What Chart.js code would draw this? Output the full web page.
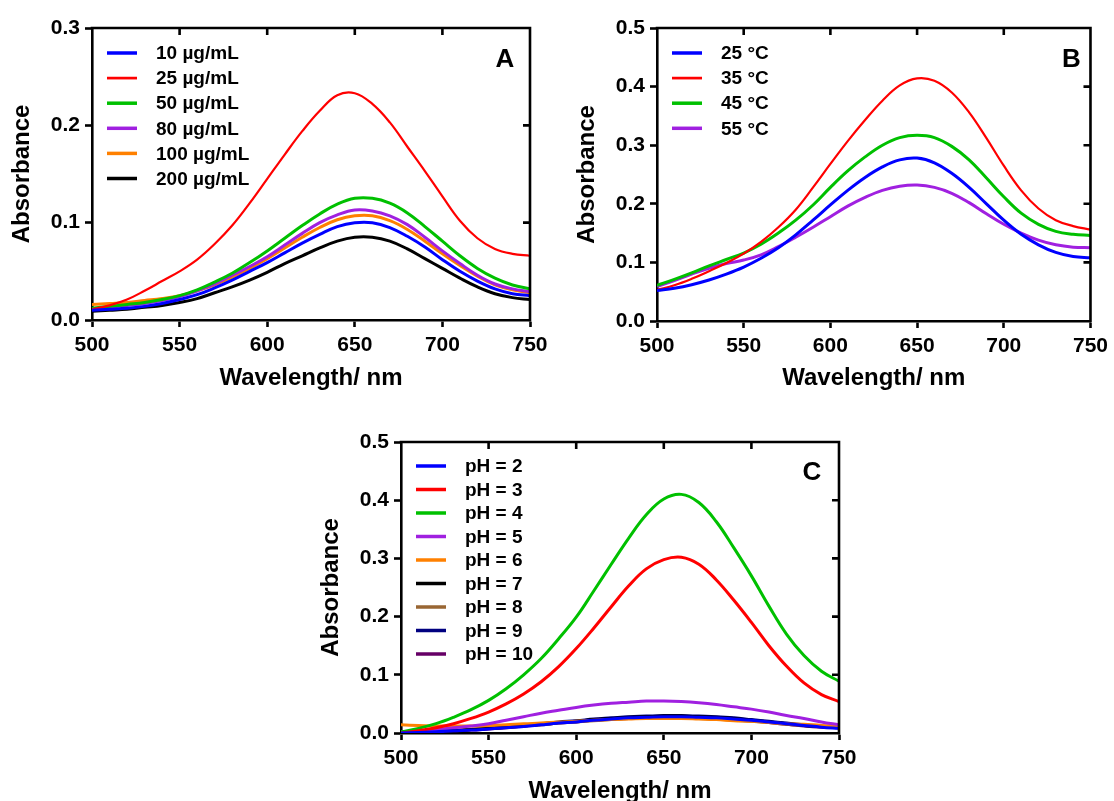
<!DOCTYPE html>
<html><head><meta charset="utf-8">
<script src="https://cdn.jsdelivr.net/npm/chart.js@4.4.0/dist/chart.umd.min.js"></script>
<style>
html,body{margin:0;padding:0;background:#fff;width:1114px;height:801px;overflow:hidden;}
canvas{position:absolute;display:block;}
</style></head><body>
<canvas id="cA" width="560" height="400" style="left:0;top:0"></canvas>
<canvas id="cB" width="554" height="400" style="left:560px;top:0"></canvas>
<canvas id="cC" width="580" height="401" style="left:310px;top:400px"></canvas>
<script>
// ---------- data ----------
const wavelength = [500,510,520,530,540,550,560,570,580,590,600,610,620,630,640,650,660,670,680,690,700,710,720,730,740,750];
const xTicks = [500,550,600,650,700,750];
const xTickLabels = ['500','550','600','650','700','750'];
const yTicksA = [0,0.1,0.2,0.3];
const yTickLabelsA = ['0.0','0.1','0.2','0.3'];
const yTicksBC = [0,0.1,0.2,0.3,0.4,0.5];
const yTickLabelsBC = ['0.0','0.1','0.2','0.3','0.4','0.5'];

// Panel A: concentration
const labelsA = ['10 µg/mL','25 µg/mL','50 µg/mL','80 µg/mL','100 µg/mL','200 µg/mL'];
const colorsA = ['#0000ff','#ff0000','#00c000','#a020e0','#ff8000','#000000'];
const absA10  = [.010,.011,.012,.014,.017,.021,.026,.033,.041,.050,.059,.069,.079,.088,.096,.100,.100,.095,.086,.075,.062,.050,.040,.032,.027,.025];
const absA25  = [.011,.015,.021,.030,.040,.050,.062,.078,.097,.120,.145,.170,.194,.215,.231,.233,.222,.203,.178,.153,.127,.102,.084,.073,.068,.066];
const absA50  = [.012,.014,.016,.018,.021,.025,.031,.039,.048,.059,.071,.084,.097,.109,.119,.125,.125,.120,.110,.096,.081,.066,.053,.043,.036,.032];
const absA80  = [.011,.013,.015,.017,.020,.024,.030,.037,.046,.055,.065,.077,.089,.100,.108,.113,.112,.107,.098,.085,.071,.058,.046,.037,.032,.029];
const absA100 = [.016,.017,.018,.020,.022,.025,.030,.036,.044,.053,.063,.074,.085,.095,.103,.107,.107,.102,.093,.081,.068,.056,.045,.036,.031,.028];
const absA200 = [.009,.010,.011,.013,.015,.018,.022,.028,.034,.041,.049,.058,.066,.074,.081,.085,.085,.081,.073,.063,.053,.043,.034,.027,.023,.021];
const seriesA = [absA10,absA25,absA50,absA80,absA100,absA200];
const widthsA = [3,2.2,3,3,3,3];

// Panel B: temperature
const labelsB = ['25 °C','35 °C','45 °C','55 °C'];
const colorsB = ['#0000ff','#ff0000','#00c000','#a020e0'];
const absB25 = [.052,.056,.062,.070,.080,.092,.107,.125,.147,.172,.198,.223,.245,.263,.275,.278,.270,.252,.228,.200,.172,.148,.130,.117,.110,.108];
const absB35 = [.053,.061,.072,.085,.099,.115,.135,.160,.190,.228,.268,.307,.343,.376,.402,.414,.410,.390,.356,.312,.265,.223,.192,.172,.162,.156];
const absB45 = [.061,.071,.082,.094,.105,.116,.131,.150,.172,.198,.228,.256,.280,.300,.313,.317,.313,.298,.275,.244,.212,.184,.165,.153,.148,.146];
const absB55 = [.059,.069,.080,.090,.098,.104,.113,.127,.143,.160,.178,.196,.211,.223,.230,.232,.228,.218,.202,.183,.165,.150,.138,.130,.126,.125];
const seriesB = [absB25,absB35,absB45,absB55];
const widthsB = [3,2.2,3,3];

// Panel C: pH
const labelsC = ['pH = 2','pH = 3','pH = 4','pH = 5','pH = 6','pH = 7','pH = 8','pH = 9','pH = 10'];
const colorsC = ['#0000ff','#ff0000','#00c000','#a020e0','#ff8000','#000000','#996633','#000080','#660066'];
const absC2  = [.000,.001,.002,.004,.005,.007,.009,.011,.014,.017,.019,.022,.024,.026,.027,.028,.028,.027,.026,.024,.022,.019,.016,.013,.010,.008];
const absC3  = [.000,.004,.009,.016,.025,.036,.050,.067,.088,.114,.145,.180,.217,.253,.282,.298,.302,.290,.263,.228,.190,.150,.115,.086,.066,.054];
const absC4  = [.002,.008,.016,.027,.040,.056,.076,.100,.128,.162,.199,.244,.290,.335,.375,.402,.410,.396,.363,.318,.270,.218,.170,.133,.106,.089];
const absC5  = [.000,.003,.006,.009,.012,.016,.022,.028,.034,.039,.044,.048,.051,.053,.055,.055,.054,.052,.049,.045,.041,.036,.030,.025,.019,.014];
const absC6  = [.014,.013,.012,.012,.012,.013,.014,.016,.017,.019,.020,.022,.023,.024,.025,.025,.025,.024,.023,.021,.020,.018,.016,.015,.013,.012];
const absC7  = [.001,.002,.003,.004,.006,.008,.010,.012,.015,.018,.020,.023,.025,.027,.028,.029,.029,.028,.027,.025,.022,.019,.016,.013,.011,.009];
const absC8  = [.002,.003,.004,.005,.006,.008,.010,.012,.014,.017,.019,.021,.023,.025,.026,.026,.026,.025,.024,.022,.020,.018,.015,.013,.011,.010];
const absC9  = [.001,.002,.003,.004,.006,.008,.010,.013,.016,.019,.021,.024,.026,.028,.029,.030,.030,.029,.028,.026,.023,.020,.017,.014,.011,.009];
const absC10 = [.001,.002,.003,.004,.005,.007,.009,.012,.014,.017,.019,.022,.024,.025,.026,.027,.027,.026,.025,.023,.021,.018,.015,.012,.010,.009];
const seriesC = [absC2,absC3,absC4,absC5,absC6,absC7,absC8,absC9,absC10];
const widthsC = [3,3,3,3,3,3,3,3,3];

// ---------- drawing ----------
const FONT = "'Liberation Sans', Arial, Helvetica, sans-serif";
Chart.defaults.font.family = FONT;

const framePlugin = {
  id: 'frame',
  afterDatasetsDraw(chart, args, o) {
    const {ctx, chartArea: a} = chart;
    const x = chart.scales.x, y = chart.scales.y;
    ctx.save();
    ctx.strokeStyle = '#000';
    ctx.lineWidth = 2.6;
    ctx.lineCap = 'butt';
    ctx.beginPath();
    ctx.moveTo(a.left - 1.3, a.top);
    ctx.lineTo(a.right, a.top);
    ctx.lineTo(a.right, a.bottom + 1.3);
    x.ticks.forEach(t => {
      const px = x.getPixelForValue(t.value);
      if (px > a.left + 2 && px < a.right - 2) { ctx.moveTo(px, a.top); ctx.lineTo(px, a.top + 7); }
    });
    y.ticks.forEach(t => {
      const py = y.getPixelForValue(t.value);
      if (py > a.top + 2 && py < a.bottom - 2) { ctx.moveTo(a.right, py); ctx.lineTo(a.right - 7, py); }
    });
    ctx.stroke();
    // legend
    const ds = chart.data.datasets;
    ctx.font = 'bold 19px ' + FONT;
    ctx.textBaseline = 'middle';
    ctx.textAlign = 'left';
    ctx.fillStyle = '#000';
    ds.forEach((d, i) => {
      const cy = a.top + o.legTop + i * o.legDy;
      ctx.beginPath();
      ctx.strokeStyle = d.borderColor;
      ctx.lineWidth = d.borderWidth + 0.5;
      ctx.moveTo(a.left + 15, cy);
      ctx.lineTo(a.left + 45, cy);
      ctx.stroke();
      ctx.fillText(d.label, a.left + 64, cy + 1);
    });
    // panel letter
    ctx.font = 'bold 26px ' + FONT;
    ctx.textAlign = 'center';
    ctx.fillText(o.letter, a.right - o.letterDx, a.top + o.letterDy + 1);
    ctx.restore();
  }
};

function makeChart(id, labels, colors, series, widths, yTicks, yLabels, yMax, g) {
  const datasets = series.map((s, i) => ({
    label: labels[i],
    data: wavelength.map((w, k) => ({x: w, y: s[k]})),
    borderColor: colors[i],
    backgroundColor: colors[i],
    borderWidth: widths[i],
    pointRadius: 0,
    fill: false,
    tension: 0.4
  }));
  const tickFont = {family: FONT, size: 21, weight: 'bold'};
  return new Chart(document.getElementById(id), {
    type: 'line',
    data: {datasets},
    plugins: [framePlugin],
    options: {
      responsive: false, animation: false, devicePixelRatio: 1,
      layout: {padding: {top: g.top, right: g.right, left: 0, bottom: 0}},
      plugins: {
        legend: {display: false}, tooltip: {enabled: false},
        frame: {legTop: g.legTop, legDy: g.legDy, letter: g.letter, letterDx: g.letterDx, letterDy: g.letterDy}
      },
      scales: {
        x: {
          type: 'linear', min: 500, max: 750,
          afterBuildTicks: s => { s.ticks = xTicks.map(v => ({value: v})); },
          afterFit: s => { s.height = g.xh; },
          grid: {display: true, drawOnChartArea: false, drawTicks: true, tickLength: 7, tickWidth: 2.6, tickColor: '#000', color: '#000'},
          border: {display: true, color: '#000', width: 2.6},
          ticks: {color: '#000', font: tickFont, padding: 6, maxRotation: 0, autoSkip: false,
                  callback: (v, i) => xTickLabels[i]},
          title: {display: true, text: 'Wavelength/ nm', color: '#000',
                  font: {family: FONT, size: 24, weight: 'bold', lineHeight: 1}, padding: {top: 0, bottom: g.xtpb}}
        },
        y: {
          type: 'linear', min: 0, max: yMax,
          afterBuildTicks: s => { s.ticks = yTicks.map(v => ({value: v})); },
          afterFit: s => { s.width = g.yw; },
          grid: {display: true, drawOnChartArea: false, drawTicks: true, tickLength: 7, tickWidth: 2.6, tickColor: '#000', color: '#000'},
          border: {display: true, color: '#000', width: 2.6},
          ticks: {color: '#000', font: tickFont, padding: 5, autoSkip: false,
                  callback: (v, i) => yLabels[i]},
          title: {display: true, text: 'Absorbance', color: '#000',
                  font: {family: FONT, size: 24, weight: 'bold', lineHeight: 1}, padding: {top: g.yw - 70 - 12, bottom: 0}}
        }
      }
    }
  });
}

makeChart('cA', labelsA, colorsA, seriesA, widthsA, yTicksA, yTickLabelsA, 0.3,
  {top: 28, right: 30, xh: 80, yw: 92, xtpb: 10, legTop: 25, legDy: 25.1, letter: 'A', letterDx: 25, letterDy: 31});
makeChart('cB', labelsB, colorsB, seriesB, widthsB, yTicksBC, yTickLabelsBC, 0.5,
  {top: 28, right: 21, xh: 79, yw: 97, xtpb: 10, legTop: 25, legDy: 25.1, letter: 'B', letterDx: 19, letterDy: 31});
makeChart('cC', labelsC, colorsC, seriesC, widthsC, yTicksBC, yTickLabelsBC, 0.5,
  {top: 42, right: 51, xh: 68, yw: 91, xtpb: -2, legTop: 24, legDy: 23.5, letter: 'C', letterDx: 27, letterDy: 30});
</script>
</body></html>
